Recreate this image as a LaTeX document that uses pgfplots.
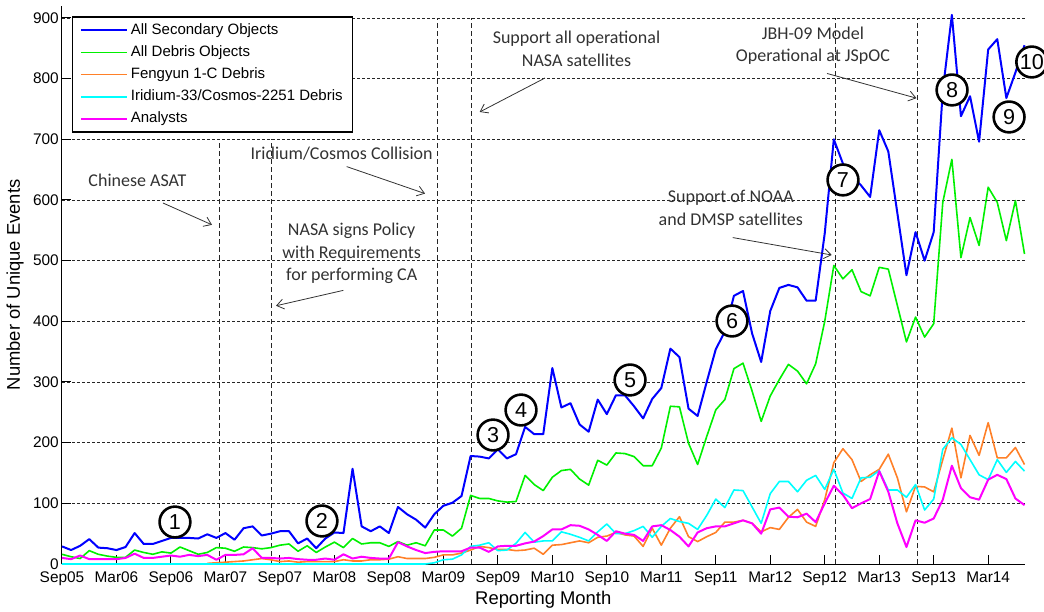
\documentclass[border=0pt]{standalone}
\usepackage{pgfplots}
\pgfplotsset{compat=1.18}
\usepackage{pgfplotstable}
\usepackage{fontspec}
\setmainfont{Liberation Sans}
\newfontfamily\calibri{Carlito}
\usetikzlibrary{arrows.meta}

\definecolor{cblue}{RGB}{0,0,255}
\definecolor{cgreen}{RGB}{0,240,0}
\definecolor{corange}{RGB}{255,128,40}
\definecolor{ccyan}{RGB}{0,255,255}
\definecolor{cmag}{RGB}{255,0,255}
\definecolor{anno}{RGB}{50,50,50}

\pgfplotstableread{
m blue green orange cyan mag
0 29 16 nan 0 10
1 23 12 nan 0 8
2 30 9 nan 0 14
3 41 22 nan 0 8
4 27 16 nan 0 8
5 26 13 nan 0 8
6 23 11 nan 0 8
7 28 11 nan 0 10
8 51 23 nan 0 17
9 33 19 nan 0 10
10 33 16 nan 0 10
11 38 20 nan 0 12
12 43 18 nan 0 14
13 43 28 nan 0 12
14 43 22 nan 0 15
15 42 16 nan 0 13
16 49 19 1 0 15
17 43 27 2 0 7
18 51 26 3 0 15
19 40 21 4 0 15
20 59 28 5 0 16
21 62 27 7 0 26
22 47 25 9 0 10
23 50 27 7 0 10
24 54 31 4 0 9
25 54 33 5 0 10
26 34 21 3 0 8
27 42 30 4 0 7
28 26 19 4 0 7
29 42 28 4 0 9
30 52 36 4 0 7
31 51 27 7 0 16
32 157 42 5 0 9
33 62 33 5 0 12
34 54 35 7 0 10
35 62 35 7 0 9
36 51 29 8 0 9
37 94 37 12 0 36
38 82 31 9 0 29
39 73 35 9 0 23
40 60 30 9 0 18
41 82 56 11 2 20
42 96 56 15 7 21
43 101 46 15 8 21
44 112 59 18 15 21
45 178 113 23 29 27
46 177 108 29 31 27
47 174 108 27 35 20
48 189 104 24 22 29
49 174 102 24 23 30
50 181 103 22 34 30
51 226 146 23 52 34
52 214 131 26 36 37
53 214 121 16 38 46
54 323 143 31 38 57
55 258 154 32 53 57
56 265 156 35 49 64
57 230 140 38 44 63
58 218 130 35 38 57
59 271 171 44 53 48
60 247 163 46 66 38
61 278 183 52 50 54
62 278 182 48 50 50
63 260 177 46 55 48
64 240 162 29 62 38
65 272 162 59 44 62
66 290 191 31 62 64
67 355 260 59 75 56
68 341 259 78 70 45
69 256 199 45 67 29
70 244 164 37 57 52
71 300 210 45 80 59
72 354 254 52 107 62
73 383 271 69 93 62
74 442 322 69 122 67
75 450 331 72 121 72
76 380 285 67 94 67
77 333 235 53 67 50
78 417 277 60 116 90
79 455 304 57 136 93
80 460 329 77 136 78
81 456 318 90 119 77
82 434 297 69 138 83
83 434 330 62 146 69
84 545 400 106 123 100
85 700 492 167 156 129
86 660 470 190 117 114
87 640 485 172 108 92
88 624 449 136 142 100
89 605 442 147 143 107
90 715 489 156 154 153
91 680 486 181 122 119
92 578 426 142 122 67
93 476 366 86 110 28
94 547 407 128 131 72
95 500 374 127 89 68
96 547 396 119 107 75
97 780 596 172 189 106
98 905 667 224 208 162
99 738 505 142 197 125
100 771 571 212 172 110
101 696 525 179 147 106
102 848 621 233 139 139
103 865 596 175 172 147
104 768 533 175 151 140
105 810 599 192 169 108
106 855 511 164 153 97
}\data

\begin{document}
\begin{tikzpicture}
\path[use as bounding box] (-31pt,-23.5pt) rectangle (491pt,282pt);
\begin{axis}[
  at={(0,0)}, anchor=south west,
  scale only axis,
  width=481.25pt, height=279.1pt,
  xmin=0, xmax=106, ymin=0, ymax=920,
  axis x line*=bottom, axis y line*=left,
  axis line style={-, line width=0.5pt, black},
  tick align=inside,
  major tick length=4.7pt,
  tick style={black, line width=0.5pt},
  xtick={0,6,...,102},
  xticklabels={Sep05,Mar06,Sep06,Mar07,Sep07,Mar08,Sep08,Mar09,Sep09,Mar10,Sep10,Mar11,Sep11,Mar12,Sep12,Mar13,Sep13,Mar14},
  ytick={0,100,...,900},
  ymajorgrids,
  major grid style={black!85, dash pattern=on 1.5pt off 1pt, line width=0.4pt},
  tick label style={font=\fontsize{7.7}{9}\selectfont},
  yticklabel style={anchor=east, inner sep=0pt, xshift=-1.4pt},
  xticklabel style={anchor=north, inner sep=0pt, yshift=-3.7pt},
  /pgf/number format/assume math mode=true,
  xlabel={Reporting Month}, ylabel={Number of Unique Events},
  label style={font=\fontsize{9.2}{11}\selectfont},
  xlabel style={at={(axis description cs:0.5,-0.0645)}, anchor=center},
  ylabel style={at={(axis description cs:-0.0488,0.5)}, anchor=center},
  unbounded coords=jump,
  clip=false,
  legend style={at={(axis description cs:0.0107,0.981)}, anchor=north west,
    draw=black, line width=0.6pt, fill=white,
    font=\fontsize{7.5}{9}\selectfont,
    inner xsep=3.5pt, inner ysep=1pt, row sep=0pt,
    nodes={inner xsep=1.5pt, inner ysep=2pt, text height=5.5pt, text depth=1.6pt}},
  legend cell align=left,
  legend image code/.code={\draw[#1] (0pt,0pt) -- (23pt,0pt);},
]
% event lines
\addplot[forget plot, black!85, line width=0.5pt, dash pattern=on 2.5pt off 1.5pt] coordinates {(17.32,0) (17.32,700)};
\addplot[forget plot, black!85, line width=0.5pt, dash pattern=on 2.5pt off 1.5pt] coordinates {(23.02,0) (23.02,700)};
\addplot[forget plot, black!85, line width=0.5pt, dash pattern=on 2.5pt off 1.5pt] coordinates {(41.33,0) (41.33,900)};
\addplot[forget plot, black!85, line width=0.5pt, dash pattern=on 2.5pt off 1.5pt] coordinates {(45.15,0) (45.15,900)};
\addplot[forget plot, black!85, line width=0.5pt, dash pattern=on 2.5pt off 1.5pt] coordinates {(85.2,0) (85.2,900)};
\addplot[forget plot, black!85, line width=0.5pt, dash pattern=on 2.5pt off 1.5pt] coordinates {(94.25,0) (94.25,900)};

\addplot[cblue, line width=1pt, line join=round] table[x=m,y=blue]{\data};
\addplot[cgreen, line width=0.8pt, line join=round] table[x=m,y=green]{\data};
\addplot[corange, line width=0.8pt, line join=round] table[x=m,y=orange]{\data};
\addplot[ccyan, line width=0.8pt, line join=round] table[x=m,y=cyan]{\data};
\addplot[cmag, line width=1pt, line join=round] table[x=m,y=mag]{\data};
\legend{All Secondary Objects, All Debris Objects, Fengyun 1-C Debris, Iridium-33/Cosmos-2251 Debris, Analysts}

% annotations
\tikzset{annot/.style={font=\calibri\fontsize{9}{11.2}\selectfont, text=anno, align=center, inner sep=0pt},
         aarrow/.style={anno, line width=0.4pt, -{Straight Barb[length=3.5pt,width=5pt]}}}
\node[annot] at (axis cs:8.31,633) {Chinese ASAT};
\draw[aarrow] (axis cs:11.12,595) -- (axis cs:16.52,559);
\node[annot] at (axis cs:30.8,677) {Iridium/Cosmos Collision};
\draw[aarrow] (axis cs:31.35,655) -- (axis cs:39.98,610.5);
\node[annot] at (axis cs:31.9,512) {NASA signs Policy\\with Requirements\\for performing CA};
\draw[aarrow] (axis cs:30.98,451) -- (axis cs:23.57,425.6);
\node[annot] at (axis cs:56.66,849) {Support all operational\\NASA satellites};
\draw[aarrow] (axis cs:53.19,801) -- (axis cs:46.0,745);
\node[annot] at (axis cs:82.7,854) {JBH-09 Model\\Operational at JSpOC};
\draw[aarrow] (axis cs:84.25,808.5) -- (axis cs:94.1,767.8);
\node[annot] at (axis cs:73.66,587) {Support of NOAA\\and DMSP satellites};
\draw[aarrow] (axis cs:73.87,538) -- (axis cs:84.77,509.3);

\tikzset{num/.style={circle, draw=black, line width=1.3pt, fill=white, minimum size=15.4pt, inner sep=0pt, font=\fontsize{10.8}{13}\selectfont}}
\node[num] at (axis cs:12.44,69.2) {1};
\node[num] at (axis cs:28.63,70.9) {2};
\node[num] at (axis cs:47.47,212.6) {3};
\node[num] at (axis cs:50.55,253.8) {4};
\node[num] at (axis cs:62.56,303.3) {5};
\node[num] at (axis cs:73.79,400.5) {6};
\node[num] at (axis cs:86.01,633) {7};
\node[num] at (axis cs:98.02,781.3) {8};
\node[num] at (axis cs:104.3,736.8) {9};
\node[num] at (axis cs:106.8,827.4) {10};
\end{axis}
\end{tikzpicture}
\end{document}
